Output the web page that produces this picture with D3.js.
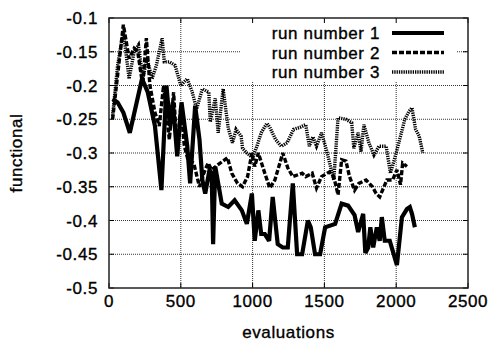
<!DOCTYPE html>
<html>
<head>
<meta charset="utf-8">
<script src="https://cdn.jsdelivr.net/npm/d3@7"></script>
<style>
  body { margin: 0; background: #fff; }
  text { font-family: "Liberation Sans", Arial, sans-serif; fill: #000; stroke: #000; stroke-width: 0.35; }
</style>
</head>
<body>
<svg id="chart" width="493" height="346"></svg>
<script>
// evaluations / functional value
const run1 = [[25,-0.22],[60,-0.225],[100,-0.24],[145,-0.27],[230,-0.19],[270,-0.21],[320,-0.26],[365,-0.355],[400,-0.2],[425,-0.26],[445,-0.225],[475,-0.305],[505,-0.225],[545,-0.29],[565,-0.345],[600,-0.23],[630,-0.28],[650,-0.34],[670,-0.36],[700,-0.325],[715,-0.33],[725,-0.435],[740,-0.32],[785,-0.375],[830,-0.38],[875,-0.37],[925,-0.385],[960,-0.405],[995,-0.36],[1015,-0.43],[1040,-0.385],[1060,-0.42],[1085,-0.42],[1115,-0.43],[1140,-0.365],[1175,-0.435],[1210,-0.44],[1245,-0.44],[1280,-0.345],[1310,-0.45],[1345,-0.45],[1385,-0.4],[1405,-0.41],[1435,-0.45],[1470,-0.45],[1505,-0.41],[1575,-0.405],[1620,-0.375],[1665,-0.378],[1710,-0.392],[1735,-0.417],[1770,-0.39],[1785,-0.448],[1805,-0.44],[1820,-0.41],[1840,-0.44],[1865,-0.41],[1885,-0.43],[1900,-0.395],[1920,-0.43],[1955,-0.43],[1980,-0.448],[2005,-0.466],[2040,-0.395],[2075,-0.383],[2095,-0.38],[2110,-0.39],[2130,-0.41]];

const run2 = [[25,-0.25],[100,-0.11],[140,-0.16],[175,-0.145],[200,-0.15],[235,-0.2],[260,-0.13],[285,-0.2],[320,-0.24],[350,-0.26],[380,-0.2],[420,-0.28],[450,-0.21],[475,-0.3],[500,-0.23],[525,-0.29],[550,-0.31],[590,-0.315],[630,-0.35],[660,-0.33],[690,-0.315],[715,-0.325],[755,-0.318],[825,-0.307],[855,-0.33],[895,-0.345],[930,-0.35],[965,-0.335],[995,-0.3],[1015,-0.32],[1040,-0.3],[1085,-0.33],[1120,-0.352],[1155,-0.34],[1190,-0.315],[1210,-0.3],[1245,-0.322],[1280,-0.335],[1345,-0.33],[1370,-0.335],[1415,-0.33],[1445,-0.352],[1480,-0.335],[1535,-0.328],[1565,-0.335],[1595,-0.362],[1620,-0.31],[1650,-0.312],[1675,-0.335],[1710,-0.355],[1740,-0.345],[1790,-0.34],[1835,-0.35],[1860,-0.36],[1885,-0.365],[1935,-0.34],[1975,-0.34],[2005,-0.325],[2030,-0.347],[2045,-0.315],[2075,-0.32]];

const run3 = [[25,-0.245],[60,-0.17],[100,-0.12],[140,-0.19],[175,-0.15],[205,-0.14],[235,-0.19],[265,-0.16],[300,-0.19],[330,-0.17],[370,-0.13],[385,-0.165],[420,-0.165],[460,-0.17],[500,-0.2],[545,-0.19],[580,-0.21],[610,-0.235],[650,-0.205],[695,-0.21],[705,-0.254],[740,-0.219],[760,-0.27],[795,-0.205],[830,-0.263],[860,-0.285],[885,-0.265],[920,-0.275],[930,-0.293],[960,-0.3],[1000,-0.307],[1030,-0.29],[1060,-0.27],[1100,-0.256],[1120,-0.262],[1160,-0.28],[1200,-0.29],[1240,-0.285],[1285,-0.265],[1330,-0.262],[1370,-0.258],[1395,-0.29],[1420,-0.276],[1445,-0.29],[1480,-0.27],[1520,-0.3],[1565,-0.34],[1595,-0.248],[1650,-0.25],[1690,-0.255],[1705,-0.293],[1735,-0.27],[1755,-0.298],[1775,-0.258],[1810,-0.285],[1845,-0.303],[1880,-0.29],[1930,-0.29],[1960,-0.33],[2000,-0.3],[2030,-0.275],[2060,-0.25],[2090,-0.238],[2110,-0.233],[2135,-0.265],[2160,-0.275],[2185,-0.3]];

const runNames = ["run number 1", "run number 2", "run number 3"];
const xTicks = [0, 500, 1000, 1500, 2000, 2500];
const yTicks = [-0.5, -0.45, -0.4, -0.35, -0.3, -0.25, -0.2, -0.15, -0.1];

const svg = d3.select("#chart");
const margin = { top: 18, right: 25, bottom: 58, left: 109 };
const width = 493 - margin.left - margin.right;
const height = 346 - margin.top - margin.bottom;

const x = d3.scaleLinear().domain([0, 2500]).range([0, width]);
const y = d3.scaleLinear().domain([-0.5, -0.1]).range([height, 0]);

const g = svg.append("g").attr("transform", `translate(${margin.left},${margin.top})`);

// grid
const grid = g.append("g").attr("stroke", "#333").attr("stroke-width", 1).attr("stroke-dasharray", "1,1");
grid.selectAll(".gx").data(xTicks.slice(1, -1)).enter().append("line")
  .attr("x1", d => x(d)).attr("x2", d => x(d)).attr("y1", 0).attr("y2", height);
grid.selectAll(".gy").data(yTicks.slice(1, -1)).enter().append("line")
  .attr("x1", 0).attr("x2", width).attr("y1", d => y(d)).attr("y2", d => y(d));

// legend area hides the grid behind it
g.append("rect").attr("x", 131).attr("y", 1).attr("width", 216).attr("height", 62).attr("fill", "#fff");

// ticks (inward, mirrored)
const tk = g.append("g").attr("stroke", "#000").attr("stroke-width", 1);
xTicks.forEach(d => {
  tk.append("line").attr("x1", x(d)).attr("x2", x(d)).attr("y1", height).attr("y2", height - 5);
  tk.append("line").attr("x1", x(d)).attr("x2", x(d)).attr("y1", 0).attr("y2", 5);
});
yTicks.forEach(d => {
  tk.append("line").attr("x1", 0).attr("x2", 5).attr("y1", y(d)).attr("y2", y(d));
  tk.append("line").attr("x1", width).attr("x2", width - 5).attr("y1", y(d)).attr("y2", y(d));
});

// tick labels
g.selectAll(".xl").data(xTicks).enter().append("text")
  .attr("x", d => x(d)).attr("y", height + 19)
  .attr("text-anchor", "middle").attr("font-size", 17).attr("letter-spacing", 0.6)
  .text(d => d);
g.selectAll(".yl").data(yTicks).enter().append("text")
  .attr("x", -11).attr("y", d => y(d) + 6)
  .attr("text-anchor", "end").attr("font-size", 17).attr("letter-spacing", 0.6)
  .text(d => String(d));

// series
const line = d3.line().x(d => x(d[0])).y(d => y(d[1]));
const styles = [
  { w: 4.2, dash: null },
  { w: 3.4, dash: "5,2" },
  { w: 3.4, dash: "1.3,1" }
];
[run1, run2, run3].forEach((run, i) => {
  g.append("path").datum(run)
    .attr("d", line)
    .attr("fill", "none").attr("stroke", "#000")
    .attr("stroke-width", styles[i].w)
    .attr("stroke-linejoin", "miter").attr("stroke-miterlimit", 3)
    .attr("stroke-dasharray", styles[i].dash);
});

// legend
runNames.forEach((name, i) => {
  const ly = 15 + i * 19.5;
  g.append("text").attr("x", 271).attr("y", ly + 6)
    .attr("text-anchor", "end").attr("font-size", 17).attr("letter-spacing", 0.6)
    .text(name);
  g.append("line").attr("x1", 283).attr("x2", 335).attr("y1", ly).attr("y2", ly)
    .attr("stroke", "#000").attr("stroke-width", styles[i].w)
    .attr("stroke-dasharray", styles[i].dash);
});

// frame
g.append("rect").attr("width", width).attr("height", height)
  .attr("fill", "none").attr("stroke", "#222").attr("stroke-width", 1.5);

// axis titles
svg.append("text").attr("x", margin.left + width / 2).attr("y", 338)
  .attr("text-anchor", "middle").attr("font-size", 17).attr("letter-spacing", 0.6)
  .text("evaluations");
svg.append("text").attr("transform", `translate(22,${margin.top + height / 2}) rotate(-90)`)
  .attr("text-anchor", "middle").attr("font-size", 17).attr("letter-spacing", 0.6)
  .text("functional");
</script>
</body>
</html>
